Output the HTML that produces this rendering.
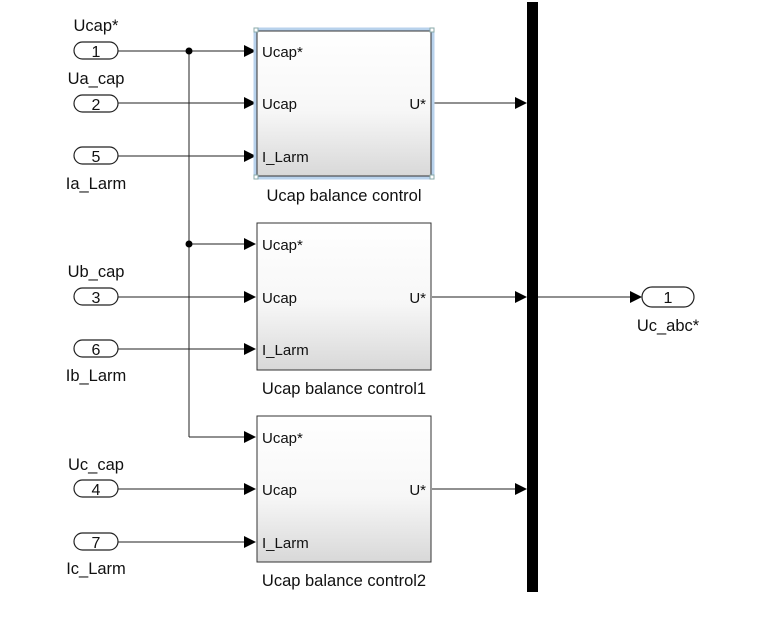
<!DOCTYPE html>
<html><head><style>
html,body{margin:0;padding:0;background:#fff;}
svg text{font-family:"Liberation Sans",Arial,sans-serif;fill:#111;}
</style></head><body>
<svg width="776" height="612" viewBox="0 0 776 612" xmlns="http://www.w3.org/2000/svg">
<defs>
<linearGradient id="g" x1="0" y1="0" x2="0" y2="1">
<stop offset="0" stop-color="#ffffff"/><stop offset="0.55" stop-color="#f7f7f7"/><stop offset="1" stop-color="#d8d8d8"/>
</linearGradient>
</defs>
<g stroke="#222" stroke-width="1" fill="none">
<line x1="118" y1="51" x2="248" y2="51"/>
<line x1="118" y1="103" x2="248" y2="103"/>
<line x1="118" y1="156" x2="248" y2="156"/>
<line x1="189" y1="51" x2="189" y2="437"/>
<line x1="189" y1="244" x2="248" y2="244"/>
<line x1="189" y1="437" x2="248" y2="437"/>
<line x1="118" y1="297" x2="248" y2="297"/>
<line x1="118" y1="349" x2="248" y2="349"/>
<line x1="118" y1="489" x2="248" y2="489"/>
<line x1="118" y1="542" x2="248" y2="542"/>
<line x1="432" y1="103" x2="518" y2="103"/>
<line x1="432" y1="297" x2="518" y2="297"/>
<line x1="432" y1="489" x2="518" y2="489"/>
<line x1="538" y1="297" x2="632" y2="297"/>
</g>
<circle cx="189" cy="51" r="3.5" fill="#000"/>
<circle cx="189" cy="244" r="3.5" fill="#000"/>
<g fill="#000">
<polygon points="244,45 256,51 244,57"/>
<polygon points="244,97 256,103 244,109"/>
<polygon points="244,150 256,156 244,162"/>
<polygon points="244,238 256,244 244,250"/>
<polygon points="244,291 256,297 244,303"/>
<polygon points="244,343 256,349 244,355"/>
<polygon points="244,431 256,437 244,443"/>
<polygon points="244,483 256,489 244,495"/>
<polygon points="244,536 256,542 244,548"/>
<polygon points="515,97 527,103 515,109"/>
<polygon points="515,291 527,297 515,303"/>
<polygon points="515,483 527,489 515,495"/>
<polygon points="630,291 642,297 630,303"/>
</g>
<rect x="527" y="2" width="11" height="590" fill="#000"/>
<rect x="255" y="29" width="178" height="149" fill="none" stroke="#b8d2ec" stroke-width="3"/>
<rect x="257" y="31" width="174" height="145" fill="url(#g)" stroke="#333"/>
<g fill="#fff" stroke="#8aa">
<rect x="254" y="28" width="4" height="4"/><rect x="430" y="28" width="4" height="4"/>
<rect x="254" y="175" width="4" height="4"/><rect x="430" y="175" width="4" height="4"/>
</g>
<rect x="257" y="223" width="174" height="147" fill="url(#g)" stroke="#333"/>
<rect x="257" y="416" width="174" height="146" fill="url(#g)" stroke="#333"/>
<g font-size="15">
<text x="262" y="57">Ucap*</text><text x="262" y="109">Ucap</text><text x="262" y="162">I_Larm</text><text x="426" y="109" text-anchor="end">U*</text>
<text x="262" y="250">Ucap*</text><text x="262" y="303">Ucap</text><text x="262" y="355">I_Larm</text><text x="426" y="303" text-anchor="end">U*</text>
<text x="262" y="443">Ucap*</text><text x="262" y="495">Ucap</text><text x="262" y="548">I_Larm</text><text x="426" y="495" text-anchor="end">U*</text>
</g>
<g font-size="16.5" text-anchor="middle">
<text x="344" y="201">Ucap balance control</text>
<text x="344" y="394">Ucap balance control1</text>
<text x="344" y="586">Ucap balance control2</text>
<text x="96" y="31">Ucap*</text>
<text x="96" y="84">Ua_cap</text>
<text x="96" y="189">Ia_Larm</text>
<text x="96" y="277">Ub_cap</text>
<text x="96" y="381">Ib_Larm</text>
<text x="96" y="470">Uc_cap</text>
<text x="96" y="574">Ic_Larm</text>
<text x="668" y="331">Uc_abc*</text>
</g>
<g fill="#fff" stroke="#222" stroke-width="1.2">
<rect x="74" y="42" width="44" height="17" rx="8.5"/>
<rect x="74" y="95" width="44" height="17" rx="8.5"/>
<rect x="74" y="147" width="44" height="17" rx="8.5"/>
<rect x="74" y="288" width="44" height="17" rx="8.5"/>
<rect x="74" y="340" width="44" height="17" rx="8.5"/>
<rect x="74" y="480" width="44" height="17" rx="8.5"/>
<rect x="74" y="533" width="44" height="17" rx="8.5"/>
<rect x="642" y="287" width="52" height="20" rx="10"/>
</g>
<g font-size="16" text-anchor="middle">
<text x="96" y="57">1</text><text x="96" y="110">2</text><text x="96" y="162">5</text>
<text x="96" y="303">3</text><text x="96" y="355">6</text>
<text x="96" y="495">4</text><text x="96" y="548">7</text>
<text x="668" y="303">1</text>
</g>
</svg>
</body></html>
